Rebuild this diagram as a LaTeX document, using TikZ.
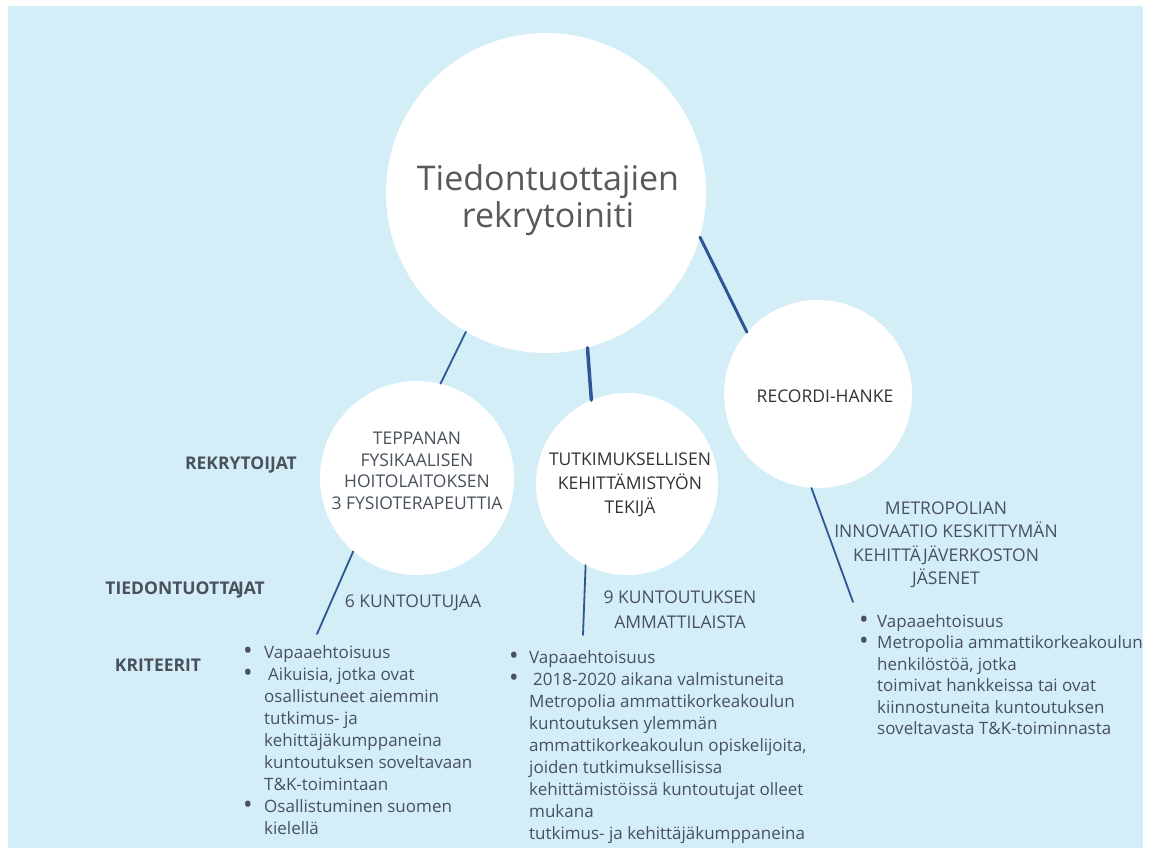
\documentclass[tikz,border=0pt]{standalone}
\usepackage{fontspec}
\setmainfont{Open Sans}
\definecolor{bgblue}{HTML}{D4EEF8}
\definecolor{lineblue}{HTML}{2E5694}
\definecolor{txtgray}{HTML}{48515C}
\definecolor{txtdark}{HTML}{2F3337}
\definecolor{txtmain}{HTML}{595959}
\newcommand{\bul}{\smash{\raisebox{-0.8pt}{\scalebox{1.5}{\textbullet}}}}
\tikzset{
  bubble/.style={circle, fill=white, draw=none, inner sep=0pt},
  link/.style={lineblue, line width=1.8pt, line cap=round},
  head/.style={font=\bfseries\fontsize{17.5}{20}\selectfont, text=txtgray, inner sep=0pt},
  caps/.style={font=\fontsize{17.5}{21.5}\selectfont, text=txtgray, align=center, inner sep=0pt},
  crit/.style={font=\fontsize{17}{22}\selectfont, text=txtgray, inner sep=0pt, anchor=north west}
}
\begin{document}
\begin{tikzpicture}[x=1pt,y=-1pt]
  \fill[white] (0,0) rectangle (1156,852);
  \fill[bgblue] (8,6) rectangle (1143,848);
  % kuplat
  \draw
    (546,193) node[bubble, minimum size=320pt] (main){}
    (417,478) node[bubble, minimum size=194pt] (rek1){}
    (627,484) node[bubble, minimum size=182pt] (rek2){}
    (818,394) node[bubble, minimum size=188pt] (rek3){};
  \coordinate (end1) at (317,634);
  \coordinate (end2) at (583,635);
  \coordinate (end3) at (853,602);
  \begin{scope}[link]
    \draw (main.240) to (rek1.76);
    \draw[line width=3.5pt] (main.285) to (rek2.113);
    \draw[line width=3pt] (main.344) to (rek3.139);
    \draw (rek1.229) to (end1);
    \draw (rek2.243) to (end2);
    \draw (rek3.266) to (end3);
  \end{scope}
  % tekstit
  \node[caps, font=\fontsize{34}{37}\selectfont, text=txtmain] (maintxt) at (548,200)
    {Tiedontuottajien\\rekrytoiniti};
  \node[caps] (rek1txt) at (417,471)
    {TEPPANAN\\FYSIKAALISEN\\HOITOLAITOKSEN\\3 FYSIOTERAPEUTTIA};
  \node[caps, text=txtdark, font=\fontsize{17.5}{24}\selectfont] (rek2txt) at (630,485)
    {TUTKIMUKSELLISEN\\KEHITTÄMISTYÖN\\TEKIJÄ};
  \node[caps, text=txtdark] (rek3txt) at (825,396) {RECORDI-HANKE};
  \node[caps, font=\fontsize{17.5}{23.5}\selectfont] (tuot3) at (946,545)
    {METROPOLIAN\\INNOVAATIO KESKITTYMÄN\\KEHITTÄJÄVERKOSTON\\JÄSENET};
  \node[caps] (tuot1) at (413,603) {6 KUNTOUTUJAA};
  \node[caps, font=\fontsize{17.5}{25}\selectfont] (tuot2) at (680,610)
    {9 KUNTOUTUKSEN\\AMMATTILAISTA};
  \node[head] (rekr) at (241,465) {REKRYTOIJAT};
  \node[head, anchor=east] (tiedon) at (265,590) {TIEDONTUOTTA\kern-2.5pt JAT};
  \node[head] (krit) at (158,665) {KRITEERIT};
  % kriteerit
  \node[crit] (krit1) at (243,643) {\begin{tabular}{@{}p{21pt}@{}l@{}}
    \bul & Vapaaehtoisuus\\
    \bul & \hspace{4pt}Aikuisia, jotka ovat\\
      & osallistuneet aiemmin\\
      & tutkimus- ja\\
      & kehittäjäkumppaneina\\
      & kuntoutuksen soveltavaan\\
      & T\&K-toimintaan\\
    \bul & Osallistuminen suomen\\
      & kielellä
  \end{tabular}};
  \node[crit] (krit2) at (509,648) {\begin{tabular}{@{}p{20pt}@{}l@{}}
    \bul & Vapaaehtoisuus\\
    \bul & \hspace{4pt}2018-2020 aikana valmistuneita\\
      & Metropolia ammattikorkeakoulun\\
      & kuntoutuksen ylemmän\\
      & ammattikorkeakoulun opiskelijoita,\\
      & joiden tutkimuksellisissa\\
      & kehittämistöissä kuntoutujat olleet\\
      & mukana\\
      & tutkimus- ja kehittäjäkumppaneina
  \end{tabular}};
  \node[crit, font=\fontsize{17}{21.5}\selectfont] (krit3) at (859,612) {\begin{tabular}{@{}p{18pt}@{}l@{}}
    \bul & Vapaaehtoisuus\\
    \bul & Metropolia ammattikorkeakoulun\\
      & henkilöstöä, jotka\\
      & toimivat hankkeissa tai ovat\\
      & kiinnostuneita kuntoutuksen\\
      & soveltavasta T\&K-toiminnasta
  \end{tabular}};
\end{tikzpicture}
\end{document}
